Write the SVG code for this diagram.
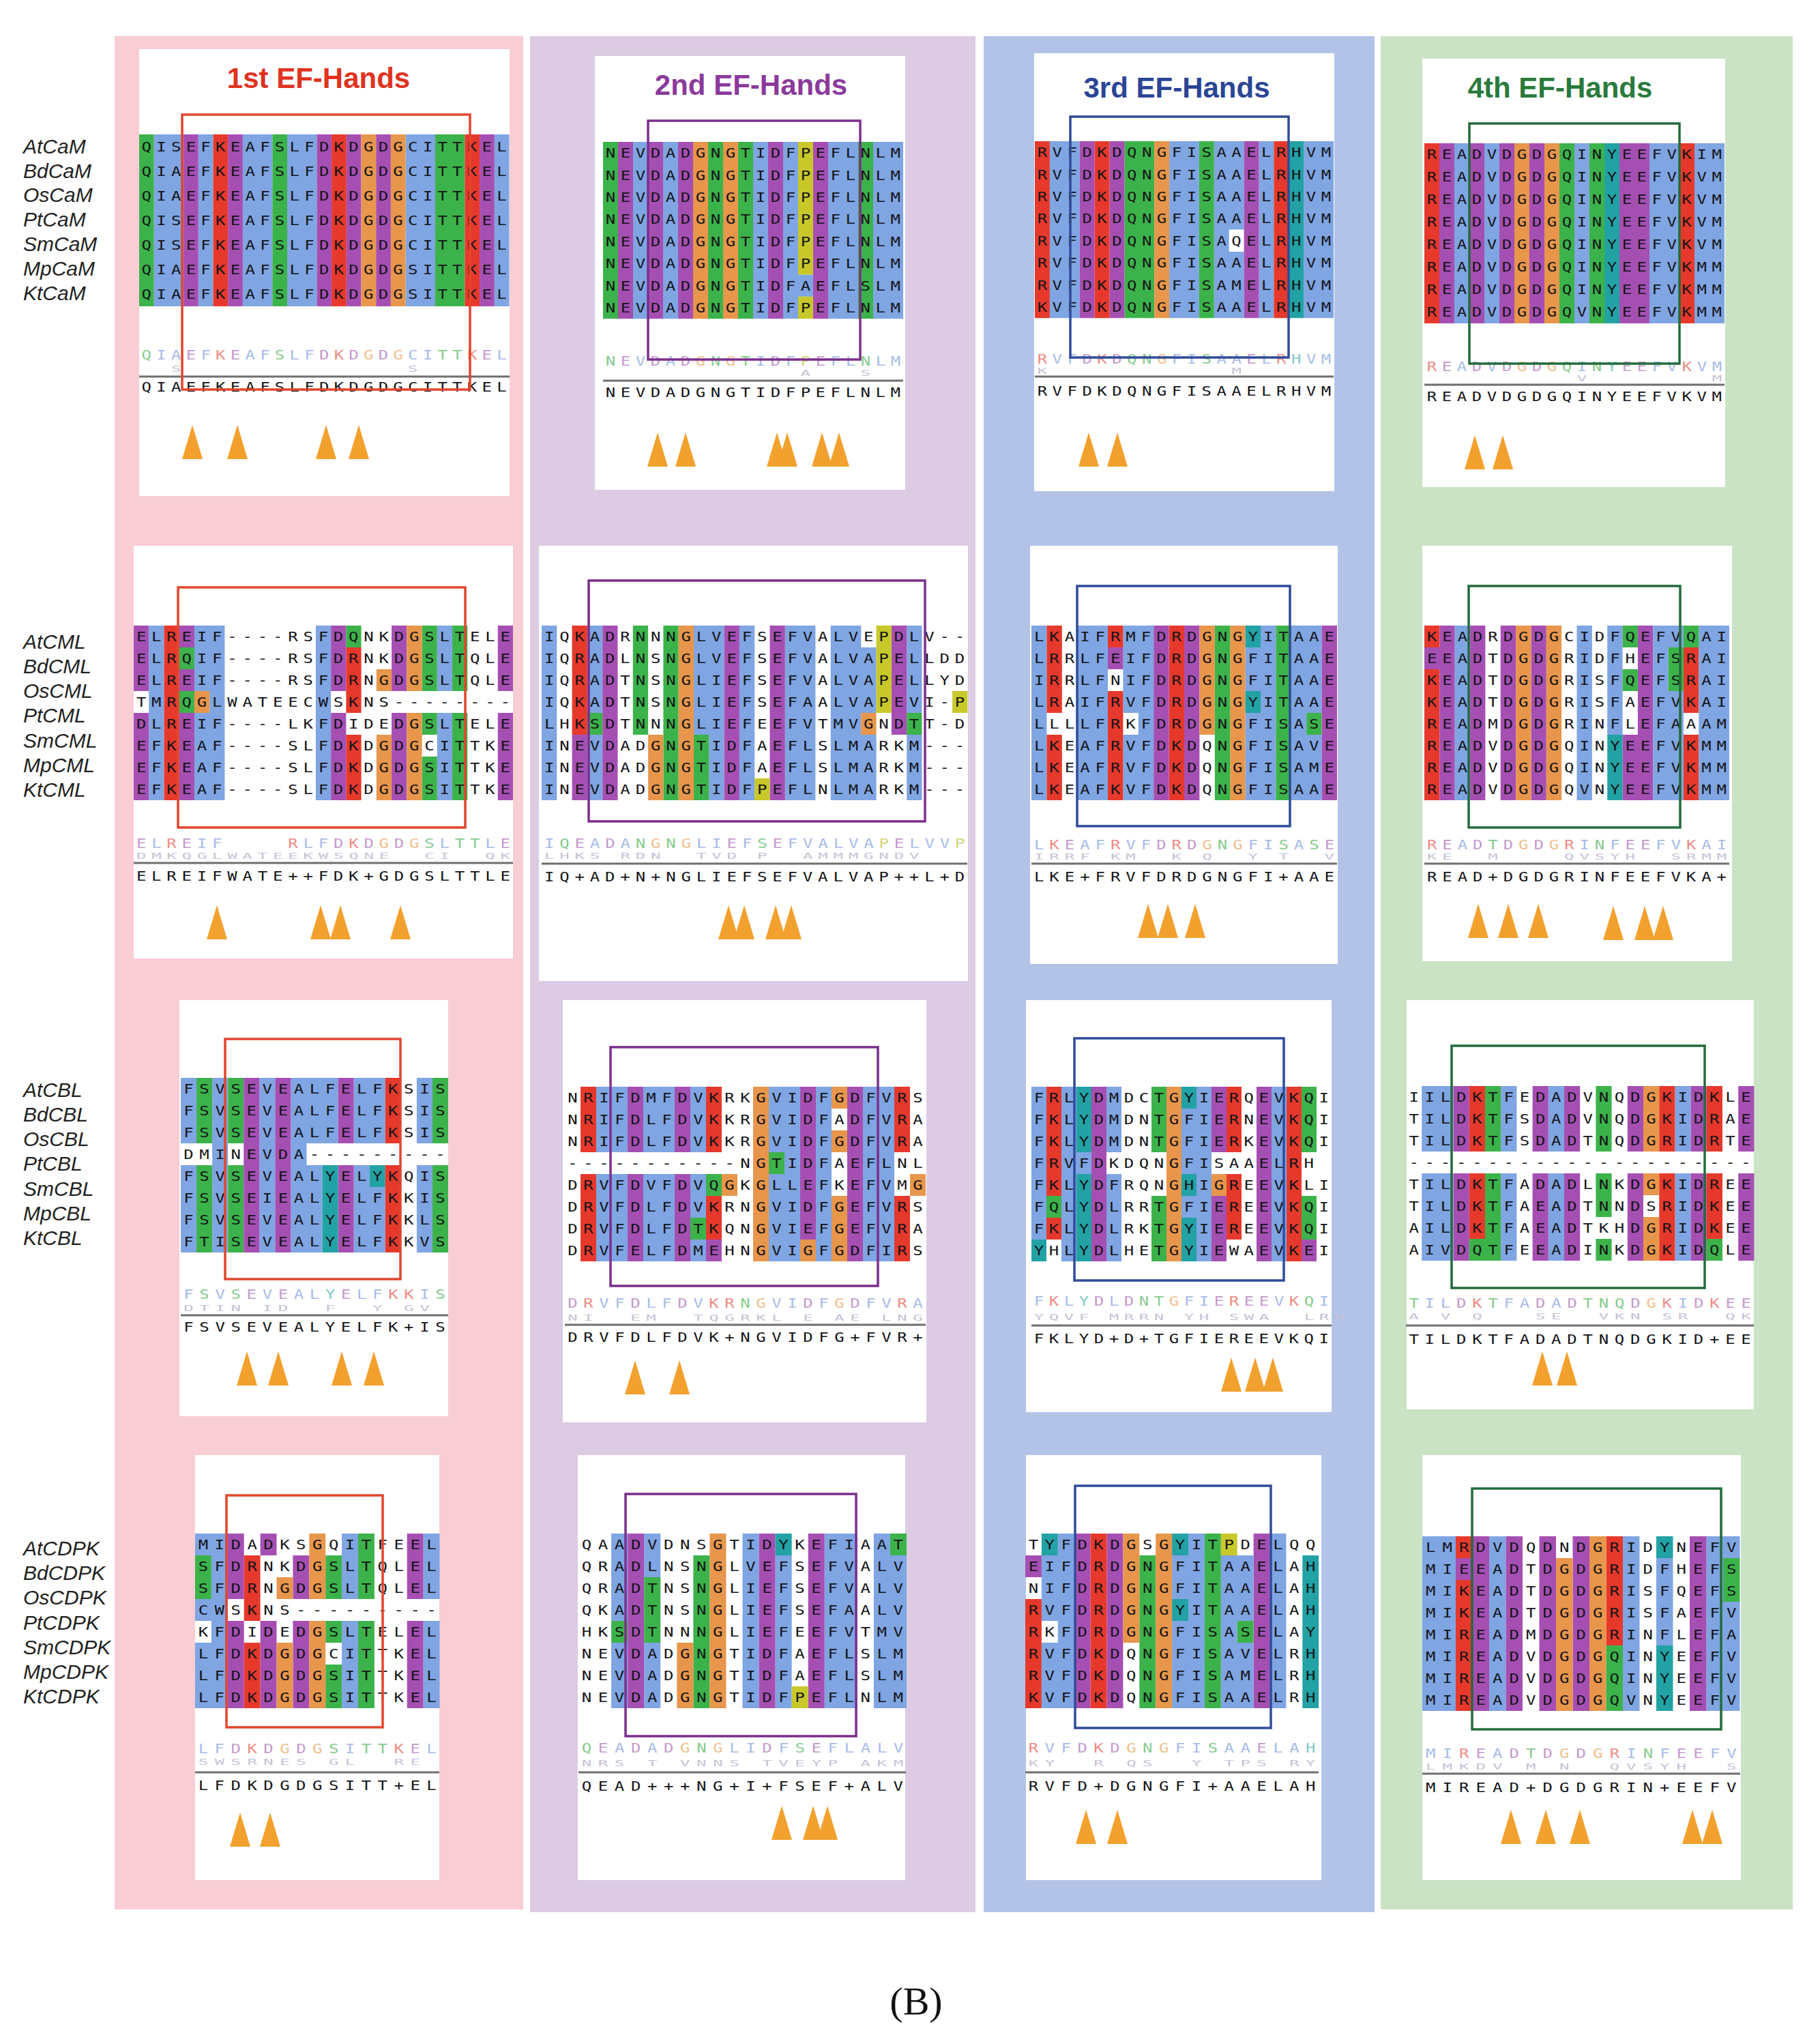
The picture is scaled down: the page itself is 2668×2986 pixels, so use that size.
<svg xmlns="http://www.w3.org/2000/svg" width="2668" height="2986" viewBox="0 0 2668 2986">
<style>
.b{fill:#7fa5e2}.r{fill:#e6392c}.m{fill:#a64fb3}.g{fill:#3cb34a}.o{fill:#e8964b}.y{fill:#c8c82a}.c{fill:#22a2a4}
.s,.l1,.l2{font-family:"DejaVu Sans Mono","Liberation Mono",monospace;font-size:20px}
.s{fill:#141418}
.l1{fill:#a7bce9}
.l2{fill:#c6c2d6}
.lr{fill:#ee8c84}.lm{fill:#c59acd}.lg{fill:#86cc8e}.lo{fill:#efbf8f}.lc{fill:#7fc8c8}.ly{fill:#d4d47a}
.sep{stroke:#6f6f6f;stroke-width:3;fill:none}
.lab{font-family:"Liberation Sans",Arial,sans-serif;font-style:italic;font-size:30px;fill:#222}
.ttl{font-family:"Liberation Sans",Arial,sans-serif;font-weight:bold;font-size:42px;text-anchor:middle}
.cap{font-family:"Liberation Serif","Times New Roman",serif;font-size:58px;fill:#111;text-anchor:middle}
.pn{fill:#fff}
.bx{fill:none;stroke-width:3.5}
</style>
<defs><path id="t" d="M0 0L15 50H-15Z" fill="#f2a12e"/></defs>
<rect width="2668" height="2986" fill="#fff"/>
<g id="columns">
<rect x="168" y="53" width="599" height="2746" fill="#f8cdd4"/>
<rect x="777" y="53" width="653" height="2750" fill="#dccbe3"/>
<rect x="1442" y="53" width="573" height="2750" fill="#b3c3e8"/>
<rect x="2024" y="53" width="604" height="2746" fill="#c9e3c4"/>
</g>
<g id="labels">
<text class="lab" x="34" y="225">AtCaM</text><text class="lab" x="34" y="261">BdCaM</text><text class="lab" x="34" y="296">OsCaM</text><text class="lab" x="34" y="332">PtCaM</text><text class="lab" x="34" y="368">SmCaM</text><text class="lab" x="34" y="404">MpCaM</text><text class="lab" x="34" y="440">KtCaM</text>
<text class="lab" x="34" y="951">AtCML</text><text class="lab" x="34" y="987">BdCML</text><text class="lab" x="34" y="1023">OsCML</text><text class="lab" x="34" y="1059">PtCML</text><text class="lab" x="34" y="1096">SmCML</text><text class="lab" x="34" y="1132">MpCML</text><text class="lab" x="34" y="1168">KtCML</text>
<text class="lab" x="34" y="1608">AtCBL</text><text class="lab" x="34" y="1644">BdCBL</text><text class="lab" x="34" y="1680">OsCBL</text><text class="lab" x="34" y="1716">PtCBL</text><text class="lab" x="34" y="1753">SmCBL</text><text class="lab" x="34" y="1789">MpCBL</text><text class="lab" x="34" y="1825">KtCBL</text>
<text class="lab" x="34" y="2280">AtCDPK</text><text class="lab" x="34" y="2316">BdCDPK</text><text class="lab" x="34" y="2352">OsCDPK</text><text class="lab" x="34" y="2389">PtCDPK</text><text class="lab" x="34" y="2425">SmCDPK</text><text class="lab" x="34" y="2461">MpCDPK</text><text class="lab" x="34" y="2497">KtCDPK</text>
</g>

<g id="p11">
<rect class="pn" x="204" y="72" width="543" height="655"/>
<text class="ttl" x="467" y="129" fill="#e0321f">1st EF-Hands</text>
<g transform="translate(204,197)">
<g transform="scale(21.7,36)">
<path class="b" d="M1 0h2v7h-2zM4 0h1v7h-1zM7 0h2v7h-2zM10 0h2v7h-2zM18 0h2v7h-2zM24 0h1v7h-1z"/>
<path class="g" d="M0 0h1v7h-1zM9 0h1v7h-1zM20 0h2v7h-2z"/>
<path class="m" d="M3 0h1v7h-1zM6 0h1v7h-1zM12 0h1v7h-1zM14 0h1v7h-1zM16 0h1v7h-1zM23 0h1v7h-1z"/>
<path class="r" d="M5 0h1v7h-1zM13 0h1v7h-1zM22 0h1v7h-1z"/>
<path class="o" d="M15 0h1v7h-1zM17 0h1v7h-1z"/>
</g>
<path class="sep" d="M0 355H543"/>
<g transform="scale(1.2,1)" style="letter-spacing:6.04px">
<text class="s" x="3.02" y="25">QISEFKEAFSLFDKDGDGCITTKEL</text>
<text class="s" x="3.02" y="61">QIAEFKEAFSLFDKDGDGCITTKEL</text>
<text class="s" x="3.02" y="97">QIAEFKEAFSLFDKDGDGCITTKEL</text>
<text class="s" x="3.02" y="133">QISEFKEAFSLFDKDGDGCITTKEL</text>
<text class="s" x="3.02" y="169">QISEFKEAFSLFDKDGDGCITTKEL</text>
<text class="s" x="3.02" y="205">QIAEFKEAFSLFDKDGDGSITTKEL</text>
<text class="s" x="3.02" y="241">QIAEFKEAFSLFDKDGDGSITTKEL</text>
<text class="l1" x="3.02" y="330"><tspan class="lg">Q</tspan>IA<tspan class="lm">E</tspan>F<tspan class="lr">K</tspan><tspan class="lm">E</tspan>AF<tspan class="lg">S</tspan>LF<tspan class="lm">D</tspan><tspan class="lr">K</tspan><tspan class="lm">D</tspan><tspan class="lo">G</tspan><tspan class="lm">D</tspan><tspan class="lo">G</tspan>CI<tspan class="lg">TT</tspan><tspan class="lr">K</tspan><tspan class="lm">E</tspan>L</text>
<text class="l2" x="3.02" transform="translate(0,348) scale(1,.6)" xml:space="preserve">  S               S      </text>
<text class="s" x="3.02" y="377">QIAEFKEAFSLFDKDGDGCITTKEL</text>
</g>
</g>
<rect class="bx" stroke="#e2452c" x="267" y="168" width="422" height="403"/>
<use href="#t" x="282" y="623"/><use href="#t" x="348" y="623"/><use href="#t" x="478" y="623"/><use href="#t" x="526" y="623"/>
</g>

<g id="p12">
<rect class="pn" x="872" y="82" width="455" height="636"/>
<text class="ttl" x="1101" y="139" fill="#8b3a9c">2nd EF-Hands</text>
<g transform="translate(884,208)">
<g transform="scale(22,32.4)">
<path class="b" d="M2 0h1v8h-1zM4 0h1v8h-1zM10 0h1v8h-1zM12 0h1v8h-1zM13 6h1v1h-1zM15 0h2v8h-2zM18 0h2v8h-2z"/>
<path class="g" d="M0 0h1v8h-1zM7 0h1v8h-1zM9 0h1v8h-1zM17 0h1v8h-1z"/>
<path class="m" d="M1 0h1v8h-1zM3 0h1v8h-1zM5 0h1v8h-1zM11 0h1v8h-1zM14 0h1v8h-1z"/>
<path class="o" d="M6 0h1v8h-1zM8 0h1v8h-1z"/>
<path class="y" d="M13 0h1v6h-1zM13 7h1v1h-1z"/>
</g>
<path class="sep" d="M0 350H440"/>
<g transform="scale(1.2,1)" style="letter-spacing:6.29px">
<text class="s" x="3.15" y="23.2">NEVDADGNGTIDFPEFLNLM</text>
<text class="s" x="3.15" y="55.6">NEVDADGNGTIDFPEFLNLM</text>
<text class="s" x="3.15" y="88">NEVDADGNGTIDFPEFLNLM</text>
<text class="s" x="3.15" y="120.4">NEVDADGNGTIDFPEFLNLM</text>
<text class="s" x="3.15" y="152.8">NEVDADGNGTIDFPEFLNLM</text>
<text class="s" x="3.15" y="185.2">NEVDADGNGTIDFPEFLNLM</text>
<text class="s" x="3.15" y="217.6">NEVDADGNGTIDFAEFLSLM</text>
<text class="s" x="3.15" y="250">NEVDADGNGTIDFPEFLNLM</text>
<text class="l1" x="3.15" y="328"><tspan class="lg">N</tspan><tspan class="lm">E</tspan>V<tspan class="lm">D</tspan>A<tspan class="lm">D</tspan><tspan class="lo">G</tspan><tspan class="lg">N</tspan><tspan class="lo">G</tspan><tspan class="lg">T</tspan>I<tspan class="lm">D</tspan>F<tspan class="ly">P</tspan><tspan class="lm">E</tspan>FL<tspan class="lg">N</tspan>LM</text>
<text class="l2" x="3.15" transform="translate(0,343) scale(1,.6)" xml:space="preserve">             A   S  </text>
<text class="s" x="3.15" y="374">NEVDADGNGTIDFPEFLNLM</text>
</g>
</g>
<rect class="bx" stroke="#7a2f8c" x="950" y="177" width="311" height="350"/>
<use href="#t" x="964" y="634"/><use href="#t" x="1005" y="634"/><use href="#t" x="1139" y="634"/><use href="#t" x="1154" y="634"/><use href="#t" x="1205" y="634"/><use href="#t" x="1230" y="634"/>
</g>

<g id="p13">
<rect class="pn" x="1516" y="78" width="440" height="642"/>
<text class="ttl" x="1725" y="143" fill="#2a4596">3rd EF-Hands</text>
<g transform="translate(1517,207)">
<g transform="scale(21.9,32.4)">
<path class="b" d="M1 0h2v8h-2zM9 0h2v8h-2zM12 0h1v8h-1zM13 0h1v4h-1zM13 5h1v3h-1zM15 0h1v8h-1zM18 0h2v8h-2z"/>
<path class="g" d="M6 0h2v8h-2zM11 0h1v8h-1z"/>
<path class="m" d="M3 0h1v8h-1zM5 0h1v8h-1zM14 0h1v8h-1z"/>
<path class="r" d="M0 0h1v8h-1zM4 0h1v8h-1zM16 0h1v8h-1z"/>
<path class="o" d="M8 0h1v8h-1z"/>
<path class="c" d="M17 0h1v8h-1z"/>
</g>
<path class="sep" d="M0 345H438"/>
<g transform="scale(1.2,1)" style="letter-spacing:6.21px">
<text class="s" x="3.11" y="23.2">RVFDKDQNGFISAAELRHVM</text>
<text class="s" x="3.11" y="55.6">RVFDKDQNGFISAAELRHVM</text>
<text class="s" x="3.11" y="88">RVFDKDQNGFISAAELRHVM</text>
<text class="s" x="3.11" y="120.4">RVFDKDQNGFISAAELRHVM</text>
<text class="s" x="3.11" y="152.8">RVFDKDQNGFISAQELRHVM</text>
<text class="s" x="3.11" y="185.2">RVFDKDQNGFISAAELRHVM</text>
<text class="s" x="3.11" y="217.6">RVFDKDQNGFISAMELRHVM</text>
<text class="s" x="3.11" y="250">KVFDKDQNGFISAAELRHVM</text>
<text class="l1" x="3.11" y="326"><tspan class="lr">R</tspan>VF<tspan class="lm">D</tspan><tspan class="lr">K</tspan><tspan class="lm">D</tspan><tspan class="lg">QN</tspan><tspan class="lo">G</tspan>FI<tspan class="lg">S</tspan>AA<tspan class="lm">E</tspan>L<tspan class="lr">R</tspan><tspan class="lc">H</tspan>VM</text>
<text class="l2" x="3.11" transform="translate(0,341) scale(1,.6)" xml:space="preserve">K            M      </text>
<text class="s" x="3.11" y="373">RVFDKDQNGFISAAELRHVM</text>
</g>
</g>
<rect class="bx" stroke="#2f4b9a" x="1569" y="171" width="320" height="353"/>
<use href="#t" x="1596" y="634"/><use href="#t" x="1638" y="634"/>
</g>

<g id="p14">
<rect class="pn" x="2085" y="86" width="444" height="628"/>
<text class="ttl" x="2287" y="143" fill="#2a7a3c">4th EF-Hands</text>
<g transform="translate(2088,210)">
<g transform="scale(22,33)">
<path class="b" d="M2 0h1v8h-1zM4 0h1v8h-1zM10 0h1v8h-1zM15 0h2v8h-2zM18 0h2v8h-2z"/>
<path class="m" d="M1 0h1v8h-1zM3 0h1v8h-1zM5 0h1v8h-1zM7 0h1v8h-1zM13 0h2v8h-2z"/>
<path class="o" d="M6 0h1v8h-1zM8 0h1v8h-1z"/>
<path class="g" d="M9 0h1v8h-1zM11 0h1v8h-1z"/>
<path class="c" d="M12 0h1v8h-1z"/>
<path class="r" d="M0 0h1v8h-1zM17 0h1v8h-1z"/>
</g>
<path class="sep" d="M0 354H440"/>
<g transform="scale(1.2,1)" style="letter-spacing:6.29px">
<text class="s" x="3.15" y="23.5">READVDGDGQINYEEFVKIM</text>
<text class="s" x="3.15" y="56.5">READVDGDGQINYEEFVKVM</text>
<text class="s" x="3.15" y="89.5">READVDGDGQINYEEFVKVM</text>
<text class="s" x="3.15" y="122.5">READVDGDGQINYEEFVKVM</text>
<text class="s" x="3.15" y="155.5">READVDGDGQINYEEFVKVM</text>
<text class="s" x="3.15" y="188.5">READVDGDGQINYEEFVKMM</text>
<text class="s" x="3.15" y="221.5">READVDGDGQINYEEFVKMM</text>
<text class="s" x="3.15" y="254.5">READVDGDGQVNYEEFVKMM</text>
<text class="l1" x="3.15" y="334"><tspan class="lr">R</tspan><tspan class="lm">E</tspan>A<tspan class="lm">D</tspan>V<tspan class="lm">D</tspan><tspan class="lo">G</tspan><tspan class="lm">D</tspan><tspan class="lo">G</tspan><tspan class="lg">Q</tspan>I<tspan class="lg">N</tspan><tspan class="lc">Y</tspan><tspan class="lm">EE</tspan>FV<tspan class="lr">K</tspan>VM</text>
<text class="l2" x="3.15" transform="translate(0,349) scale(1,.6)" xml:space="preserve">          V        M</text>
<text class="s" x="3.15" y="378">READVDGDGQINYEEFVKVM</text>
</g>
</g>
<rect class="bx" stroke="#236b3c" x="2154" y="181" width="308" height="352"/>
<use href="#t" x="2162" y="638"/><use href="#t" x="2203" y="638"/>
</g>

<g id="p21">
<rect class="pn" x="196" y="800" width="556" height="605"/>
<g transform="translate(196,917)">
<g transform="scale(22.24,32)">
<path class="m" d="M0 0h1v3h-1zM0 4h1v4h-1zM3 0h1v1h-1zM3 2h1v1h-1zM3 4h1v4h-1zM13 0h1v3h-1zM13 4h1v4h-1zM17 0h1v3h-1zM17 4h1v4h-1zM24 0h1v3h-1zM24 4h1v4h-1z"/>
<path class="b" d="M1 0h1v8h-1zM4 0h1v3h-1zM4 4h1v4h-1zM5 0h1v8h-1zM12 0h1v8h-1zM20 0h1v3h-1zM20 4h1v4h-1z"/>
<path class="r" d="M2 0h1v8h-1zM14 1h1v3h-1zM14 5h1v3h-1z"/>
<path class="g" d="M3 1h1v1h-1zM3 3h1v1h-1zM14 0h1v1h-1zM19 0h1v3h-1zM19 4h1v1h-1zM19 6h1v2h-1zM21 0h1v3h-1zM21 4h1v4h-1z"/>
<path class="o" d="M4 3h1v1h-1zM16 2h1v1h-1zM16 5h1v3h-1zM18 0h1v3h-1zM18 4h1v4h-1z"/>
</g>
<path class="sep" d="M0 348H556"/>
<g transform="scale(1.2,1)" style="letter-spacing:6.49px">
<text class="s" x="3.25" y="23">ELREIF----RSFDQNKDGSLTELE</text>
<text class="s" x="3.25" y="55">ELRQIF----RSFDRNKDGSLTQLE</text>
<text class="s" x="3.25" y="87">ELREIF----RSFDRNGDGSLTQLE</text>
<text class="s" x="3.25" y="119">TMRQGLWATEECWSKNS--------</text>
<text class="s" x="3.25" y="151">DLREIF----LKFDIDEDGSLTELE</text>
<text class="s" x="3.25" y="183">EFKEAF----SLFDKDGDGCITTKE</text>
<text class="s" x="3.25" y="215">EFKEAF----SLFDKDGDGSITTKE</text>
<text class="s" x="3.25" y="247">EFKEAF----SLFDKDGDGSITTKE</text>
<text class="l1" x="3.25" y="326" xml:space="preserve"><tspan class="lm">E</tspan>L<tspan class="lr">R</tspan><tspan class="lm">E</tspan>IF    <tspan class="lr">R</tspan>LF<tspan class="lm">D</tspan><tspan class="lr">K</tspan><tspan class="lm">D</tspan><tspan class="lo">G</tspan><tspan class="lm">D</tspan><tspan class="lo">G</tspan><tspan class="lg">S</tspan>L<tspan class="lg">TT</tspan>L<tspan class="lm">E</tspan></text>
<text class="l2" x="3.25" transform="translate(0,342) scale(1,.6)" xml:space="preserve">DMKQGLWATEEKWSQNE  CI  QK</text>
<text class="s" x="3.25" y="374">ELREIFWATE++FDK+GDGSLTTLE</text>
</g>
</g>
<rect class="bx" stroke="#e2452c" x="261" y="861" width="421" height="352"/>
<use href="#t" x="318" y="1327"/><use href="#t" x="470" y="1327"/><use href="#t" x="499" y="1327"/><use href="#t" x="587" y="1327"/>
</g>

<g id="p22">
<rect class="pn" x="790" y="800" width="629" height="638"/>
<g transform="translate(794,917)">
<g transform="scale(22.3,32)">
<path class="b" d="M0 0h1v8h-1zM3 0h1v4h-1zM3 5h1v3h-1zM10 0h1v5h-1zM11 0h1v8h-1zM13 0h1v8h-1zM16 0h2v8h-2zM19 0h2v8h-2zM21 1h1v3h-1zM21 5h1v3h-1zM24 0h1v4h-1zM24 5h1v3h-1z"/>
<path class="r" d="M2 0h1v5h-1z"/>
<path class="m" d="M2 5h1v3h-1zM4 0h1v8h-1zM12 0h1v8h-1zM15 0h1v8h-1zM23 0h1v5h-1z"/>
<path class="g" d="M3 4h1v1h-1zM6 0h1v5h-1zM8 0h1v8h-1zM10 5h1v3h-1zM24 4h1v1h-1z"/>
<path class="o" d="M7 5h1v3h-1zM9 0h1v8h-1zM21 4h1v1h-1z"/>
<path class="y" d="M14 7h1v1h-1zM22 0h1v4h-1zM27 3h1v1h-1z"/>
</g>
<path class="sep" d="M0 349H624"/>
<g transform="scale(1.2,1)" style="letter-spacing:6.54px">
<text class="s" x="3.27" y="23">IQKADRNNNGLVEFSEFVALVEPDLV--</text>
<text class="s" x="3.27" y="55">IQRADLNSNGLVEFSEFVALVAPELLDD</text>
<text class="s" x="3.27" y="87">IQRADTNSNGLIEFSEFVALVAPELLYD</text>
<text class="s" x="3.27" y="119">IQKADTNSNGLIEFSEFAALVAPEVI-P</text>
<text class="s" x="3.27" y="151">LHKSDTNNNGLIEFEEFVTMVGNDTT-D</text>
<text class="s" x="3.27" y="183">INEVDADGNGTIDFAEFLSLMARKM---</text>
<text class="s" x="3.27" y="215">INEVDADGNGTIDFAEFLSLMARKM---</text>
<text class="s" x="3.27" y="247">INEVDADGNGTIDFPEFLNLMARKM---</text>
<text class="l1" x="3.27" y="326">I<tspan class="lg">Q</tspan><tspan class="lm">E</tspan>A<tspan class="lm">D</tspan>A<tspan class="lg">N</tspan><tspan class="lo">G</tspan><tspan class="lg">N</tspan><tspan class="lo">G</tspan>LI<tspan class="lm">E</tspan>F<tspan class="lg">S</tspan><tspan class="lm">E</tspan>FVALVA<tspan class="ly">P</tspan><tspan class="lm">E</tspan>LVV<tspan class="ly">P</tspan></text>
<text class="l2" x="3.27" transform="translate(0,342) scale(1,.6)" xml:space="preserve">LHKS RDN  TVD P  AMMMGNDV   </text>
<text class="s" x="3.27" y="375">IQ+AD+N+NGLIEFSEFVALVAP++L+D</text>
</g>
</g>
<rect class="bx" stroke="#7a2f8c" x="863" y="851" width="493" height="353"/>
<use href="#t" x="1068" y="1327"/><use href="#t" x="1091" y="1327"/><use href="#t" x="1137" y="1327"/><use href="#t" x="1160" y="1327"/>
</g>

<g id="p23">
<rect class="pn" x="1510" y="800" width="451" height="613"/>
<g transform="translate(1512,917)">
<g transform="scale(22.4,32)">
<path class="b" d="M0 0h1v8h-1zM3 0h2v8h-2zM6 0h1v4h-1zM6 5h1v3h-1zM7 0h1v8h-1zM14 1h1v2h-1zM14 4h1v4h-1zM15 0h1v8h-1zM17 0h1v8h-1zM18 0h1v4h-1zM18 5h1v3h-1z"/>
<path class="r" d="M1 0h1v4h-1zM1 5h1v3h-1zM5 0h1v1h-1zM5 3h1v5h-1zM9 0h1v8h-1z"/>
<path class="m" d="M5 1h1v1h-1zM8 0h1v8h-1zM10 0h1v8h-1zM19 0h1v8h-1z"/>
<path class="o" d="M11 0h1v5h-1zM13 0h1v8h-1z"/>
<path class="g" d="M12 0h1v8h-1zM16 0h1v8h-1zM18 4h1v1h-1z"/>
<path class="c" d="M14 0h1v1h-1zM14 3h1v1h-1z"/>
</g>
<path class="sep" d="M0 349H448"/>
<g transform="scale(1.2,1)" style="letter-spacing:6.63px">
<text class="s" x="3.31" y="23">LKAIFRMFDRDGNGYITAAE</text>
<text class="s" x="3.31" y="55">LRRLFEIFDRDGNGFITAAE</text>
<text class="s" x="3.31" y="87">IRRLFNIFDRDGNGFITAAE</text>
<text class="s" x="3.31" y="119">LRAIFRVFDRDGNGYITAAE</text>
<text class="s" x="3.31" y="151">LLLLFRKFDRDGNGFISASE</text>
<text class="s" x="3.31" y="183">LKEAFRVFDKDQNGFISAVE</text>
<text class="s" x="3.31" y="215">LKEAFRVFDKDQNGFISAME</text>
<text class="s" x="3.31" y="247">LKEAFKVFDKDQNGFISAAE</text>
<text class="l1" x="3.31" y="328">L<tspan class="lr">K</tspan><tspan class="lm">E</tspan>AF<tspan class="lr">R</tspan>VF<tspan class="lm">D</tspan><tspan class="lr">R</tspan><tspan class="lm">D</tspan><tspan class="lo">G</tspan><tspan class="lg">N</tspan><tspan class="lo">G</tspan>FI<tspan class="lg">S</tspan>A<tspan class="lg">S</tspan><tspan class="lm">E</tspan></text>
<text class="l2" x="3.31" transform="translate(0,343) scale(1,.6)" xml:space="preserve">IRRF KM  K Q  Y T  V</text>
<text class="s" x="3.31" y="375">LKE+FRVFDRDGNGFI+AAE</text>
</g>
</g>
<rect class="bx" stroke="#2f4b9a" x="1579" y="859" width="312" height="352"/>
<use href="#t" x="1683" y="1325"/><use href="#t" x="1712" y="1325"/><use href="#t" x="1752" y="1325"/>
</g>

<g id="p24">
<rect class="pn" x="2085" y="800" width="454" height="609"/>
<g transform="translate(2088,917)">
<g transform="scale(22.35,32)">
<path class="r" d="M0 0h1v1h-1zM0 2h1v6h-1zM17 1h1v3h-1zM17 5h1v3h-1z"/>
<path class="m" d="M0 1h1v1h-1zM1 0h1v8h-1zM3 0h1v8h-1zM5 0h1v8h-1zM7 0h1v8h-1zM13 5h1v3h-1zM14 0h1v8h-1z"/>
<path class="b" d="M2 0h1v8h-1zM10 0h1v8h-1zM12 0h1v5h-1zM15 0h1v8h-1zM16 0h1v1h-1zM16 3h1v5h-1zM18 0h2v8h-2z"/>
<path class="o" d="M6 0h1v8h-1zM8 0h1v8h-1z"/>
<path class="g" d="M13 0h1v1h-1zM13 2h1v1h-1zM16 1h1v2h-1zM17 0h1v1h-1z"/>
<path class="c" d="M12 5h1v3h-1z"/>
</g>
<path class="sep" d="M0 349H447"/>
<g transform="scale(1.2,1)" style="letter-spacing:6.59px">
<text class="s" x="3.29" y="23">KEADRDGDGCIDFQEFVQAI</text>
<text class="s" x="3.29" y="55">EEADTDGDGRIDFHEFSRAI</text>
<text class="s" x="3.29" y="87">KEADTDGDGRISFQEFSRAI</text>
<text class="s" x="3.29" y="119">KEADTDGDGRISFAEFVKAI</text>
<text class="s" x="3.29" y="151">READMDGDGRINFLEFAAAM</text>
<text class="s" x="3.29" y="183">READVDGDGQINYEEFVKMM</text>
<text class="s" x="3.29" y="215">READVDGDGQINYEEFVKMM</text>
<text class="s" x="3.29" y="247">READVDGDGQVNYEEFVKMM</text>
<text class="l1" x="3.29" y="328"><tspan class="lr">R</tspan><tspan class="lm">E</tspan>A<tspan class="lm">D</tspan><tspan class="lg">T</tspan><tspan class="lm">D</tspan><tspan class="lo">G</tspan><tspan class="lm">D</tspan><tspan class="lo">G</tspan><tspan class="lr">R</tspan>I<tspan class="lg">N</tspan>F<tspan class="lm">EE</tspan>FV<tspan class="lr">K</tspan>AI</text>
<text class="l2" x="3.29" transform="translate(0,343) scale(1,.6)" xml:space="preserve">KE  M    QVSYH  SRMM</text>
<text class="s" x="3.29" y="375">READ+DGDGRINFEEFVKA+</text>
</g>
</g>
<rect class="bx" stroke="#236b3c" x="2153" y="859" width="310" height="354"/>
<use href="#t" x="2167" y="1325"/><use href="#t" x="2211" y="1325"/><use href="#t" x="2255" y="1325"/><use href="#t" x="2365" y="1328"/><use href="#t" x="2411" y="1328"/><use href="#t" x="2438" y="1328"/>
</g>

<g id="p31">
<rect class="pn" x="263" y="1466" width="394" height="610"/>
<g transform="translate(265,1580)">
<g transform="scale(23.06,32)">
<path class="b" d="M0 0h1v3h-1zM0 4h1v4h-1zM2 0h1v8h-1zM5 0h1v8h-1zM7 0h1v8h-1zM8 0h2v3h-2zM8 4h1v4h-1zM11 0h2v3h-2zM11 4h1v4h-1zM12 5h1v3h-1zM15 0h1v3h-1zM15 4h1v4h-1z"/>
<path class="g" d="M1 0h1v3h-1zM1 4h1v4h-1zM3 0h1v3h-1zM3 4h1v4h-1zM16 0h1v3h-1zM16 4h1v4h-1z"/>
<path class="m" d="M4 0h1v8h-1zM6 0h1v8h-1zM10 0h1v3h-1zM10 4h1v4h-1z"/>
<path class="c" d="M9 4h1v4h-1zM12 4h1v1h-1z"/>
<path class="r" d="M13 0h1v3h-1zM13 4h1v4h-1z"/>
</g>
<path class="sep" d="M0 348H392"/>
<g transform="scale(1.2,1)" style="letter-spacing:7.18px">
<text class="s" x="3.59" y="23">FSVSEVEALFELFKSIS</text>
<text class="s" x="3.59" y="55">FSVSEVEALFELFKSIS</text>
<text class="s" x="3.59" y="87">FSVSEVEALFELFKSIS</text>
<text class="s" x="3.59" y="119">DMINEVDA---------</text>
<text class="s" x="3.59" y="151">FSVSEVEALYELYKQIS</text>
<text class="s" x="3.59" y="183">FSVSEIEALYELFKKIS</text>
<text class="s" x="3.59" y="215">FSVSEVEALYELFKKLS</text>
<text class="s" x="3.59" y="247">FTISEVEALYELFKKVS</text>
<text class="l1" x="3.59" y="324">F<tspan class="lg">S</tspan>V<tspan class="lg">S</tspan><tspan class="lm">E</tspan>V<tspan class="lm">E</tspan>AL<tspan class="lc">Y</tspan><tspan class="lm">E</tspan>LF<tspan class="lr">KK</tspan>I<tspan class="lg">S</tspan></text>
<text class="l2" x="3.59" transform="translate(0,342) scale(1,.6)" xml:space="preserve">DTIN ID  F  Y GV </text>
<text class="s" x="3.59" y="372">FSVSEVEALYELFK+IS</text>
</g>
</g>
<rect class="bx" stroke="#e2452c" x="330" y="1523" width="257" height="352"/>
<use href="#t" x="362" y="1981"/><use href="#t" x="408" y="1981"/><use href="#t" x="501" y="1981"/><use href="#t" x="548" y="1981"/>
</g>

<g id="p32">
<rect class="pn" x="825" y="1466" width="533" height="619"/>
<g transform="translate(828,1593)">
<g transform="scale(23,32)">
<path class="r" d="M1 0h1v3h-1zM1 4h1v4h-1zM9 0h1v3h-1zM9 5h1v2h-1zM21 0h1v3h-1zM21 5h1v3h-1z"/>
<path class="b" d="M2 0h2v3h-2zM2 4h2v4h-2zM5 0h2v3h-2zM5 4h2v4h-2zM8 0h1v3h-1zM8 4h1v2h-1zM8 7h1v1h-1zM13 0h1v3h-1zM13 4h1v4h-1zM14 0h1v8h-1zM16 0h1v8h-1zM19 0h2v8h-2z"/>
<path class="m" d="M4 0h1v3h-1zM4 4h1v4h-1zM7 0h1v3h-1zM7 4h1v4h-1zM9 7h1v1h-1zM15 0h1v7h-1zM18 0h1v8h-1z"/>
<path class="g" d="M8 6h1v1h-1zM9 4h1v1h-1zM13 3h1v1h-1z"/>
<path class="o" d="M10 4h1v1h-1zM12 0h1v8h-1zM15 7h1v1h-1zM17 0h1v1h-1zM17 2h1v1h-1zM17 5h1v3h-1zM22 4h1v1h-1z"/>
</g>
<path class="sep" d="M0 349H529"/>
<g transform="scale(1.2,1)" style="letter-spacing:7.13px">
<text class="s" x="3.56" y="23">NRIFDMFDVKRKGVIDFGDFVRS</text>
<text class="s" x="3.56" y="55">NRIFDLFDVKKRGVIDFADFVRA</text>
<text class="s" x="3.56" y="87">NRIFDLFDVKKRGVIDFGDFVRA</text>
<text class="s" x="3.56" y="119">-----------NGTIDFAEFLNL</text>
<text class="s" x="3.56" y="151">DRVFDVFDVQGKGLLEFKEFVMG</text>
<text class="s" x="3.56" y="183">DRVFDLFDVKRNGVIDFGEFVRS</text>
<text class="s" x="3.56" y="215">DRVFDLFDTKQNGVIEFGEFVRA</text>
<text class="s" x="3.56" y="247">DRVFELFDMEHNGVIGFGDFIRS</text>
<text class="l1" x="3.56" y="324"><tspan class="lm">D</tspan><tspan class="lr">R</tspan>VF<tspan class="lm">D</tspan>LF<tspan class="lm">D</tspan>V<tspan class="lr">KR</tspan><tspan class="lg">N</tspan><tspan class="lo">G</tspan>VI<tspan class="lm">D</tspan>F<tspan class="lo">G</tspan><tspan class="lm">D</tspan>FV<tspan class="lr">R</tspan>A</text>
<text class="l2" x="3.56" transform="translate(0,343) scale(1,.6)" xml:space="preserve">NI  EM  TQGRKL E AE LNG</text>
<text class="s" x="3.56" y="374">DRVFDLFDVK+NGVIDFG+FVR+</text>
</g>
</g>
<rect class="bx" stroke="#7a2f8c" x="895" y="1535" width="392" height="350"/>
<use href="#t" x="931" y="1994"/><use href="#t" x="996" y="1994"/>
</g>

<g id="p33">
<rect class="pn" x="1504" y="1466" width="448" height="604"/>
<g transform="translate(1512,1593)">
<g transform="scale(22,32)">
<path class="b" d="M0 0h1v7h-1zM2 0h1v8h-1zM3 3h1v1h-1zM5 0h1v3h-1zM5 4h1v4h-1zM10 1h1v3h-1zM10 5h1v1h-1zM11 0h1v8h-1zM16 0h1v8h-1z"/>
<path class="c" d="M0 7h1v1h-1zM3 0h1v3h-1zM3 4h1v4h-1zM10 0h1v1h-1zM10 4h1v1h-1zM10 6h1v2h-1z"/>
<path class="r" d="M1 0h1v5h-1zM1 6h1v1h-1zM13 0h1v3h-1zM13 4h1v3h-1zM17 0h1v8h-1z"/>
<path class="g" d="M1 5h1v1h-1zM8 0h1v3h-1zM8 5h1v3h-1zM18 0h1v3h-1zM18 5h1v2h-1z"/>
<path class="m" d="M4 0h1v8h-1zM12 0h1v3h-1zM12 5h1v3h-1zM15 0h1v8h-1zM18 7h1v1h-1z"/>
<path class="o" d="M9 0h1v8h-1zM12 4h1v1h-1z"/>
</g>
<path class="sep" d="M0 350H440"/>
<g transform="scale(1.2,1)" style="letter-spacing:6.29px">
<text class="s" x="3.15" y="23">FRLYDMDCTGYIERQEVKQI</text>
<text class="s" x="3.15" y="55">FKLYDMDNTGFIERNEVKQI</text>
<text class="s" x="3.15" y="87">FKLYDMDNTGFIERKEVKQI</text>
<text class="s" x="3.15" y="119">FRVFDKDQNGFISAAELRH</text>
<text class="s" x="3.15" y="151">FKLYDFRQNGHIGREEVKLI</text>
<text class="s" x="3.15" y="183">FQLYDLRRTGFIEREEVKQI</text>
<text class="s" x="3.15" y="215">FKLYDLRKTGYIEREEVKQI</text>
<text class="s" x="3.15" y="247">YHLYDLHETGYIEWAEVKEI</text>
<text class="l1" x="3.15" y="321">F<tspan class="lr">K</tspan>L<tspan class="lc">Y</tspan><tspan class="lm">D</tspan>L<tspan class="lm">D</tspan><tspan class="lg">NT</tspan><tspan class="lo">G</tspan>FI<tspan class="lm">E</tspan><tspan class="lr">R</tspan><tspan class="lm">EE</tspan>V<tspan class="lr">K</tspan><tspan class="lg">Q</tspan>I</text>
<text class="l2" x="3.15" transform="translate(0,342) scale(1,.6)" xml:space="preserve">YQVF MRRN YH SWA  LRH</text>
<text class="s" x="3.15" y="376">FKLYD+D+TGFIEREEVKQI</text>
</g>
</g>
<rect class="bx" stroke="#2f4b9a" x="1575" y="1522" width="307" height="355"/>
<use href="#t" x="1805" y="1990"/><use href="#t" x="1840" y="1990"/><use href="#t" x="1866" y="1990"/>
</g>

<g id="p34">
<rect class="pn" x="2062" y="1466" width="509" height="600"/>
<g transform="translate(2061,1592)">
<g transform="scale(23.2,32)">
<path class="b" d="M1 0h2v3h-2zM1 4h2v4h-2zM6 0h1v3h-1zM6 4h1v4h-1zM9 0h1v3h-1zM9 4h1v4h-1zM17 0h1v3h-1zM17 4h1v4h-1z"/>
<path class="m" d="M3 0h1v3h-1zM3 4h1v4h-1zM8 0h1v3h-1zM8 4h1v4h-1zM10 0h1v3h-1zM10 4h1v4h-1zM14 0h1v3h-1zM14 4h1v4h-1zM18 0h1v3h-1zM18 4h1v4h-1zM21 0h1v3h-1zM21 4h1v4h-1z"/>
<path class="r" d="M4 0h1v3h-1zM4 4h1v3h-1zM16 0h1v3h-1zM16 4h1v4h-1zM19 0h1v3h-1zM19 4h1v3h-1z"/>
<path class="g" d="M4 7h1v1h-1zM5 0h1v3h-1zM5 4h1v4h-1zM12 0h1v3h-1zM12 4h1v2h-1zM12 7h1v1h-1zM19 7h1v1h-1z"/>
<path class="o" d="M15 0h1v3h-1zM15 4h1v1h-1zM15 6h1v2h-1z"/>
</g>
<path class="sep" d="M0 351H510"/>
<g transform="scale(1.2,1)" style="letter-spacing:7.29px">
<text class="s" x="3.65" y="23">IILDKTFEDADVNQDGKIDKLE</text>
<text class="s" x="3.65" y="55">TILDKTFSDADVNQDGKIDRAE</text>
<text class="s" x="3.65" y="87">TILDKTFSDADTNQDGRIDRTE</text>
<text class="s" x="3.65" y="119">----------------------</text>
<text class="s" x="3.65" y="151">TILDKTFADADLNKDGKIDREE</text>
<text class="s" x="3.65" y="183">TILDKTFAEADTNNDSRIDKEE</text>
<text class="s" x="3.65" y="215">AILDKTFAEADTKHDGRIDKEE</text>
<text class="s" x="3.65" y="247">AIVDQTFEEADINKDGKIDQLE</text>
<text class="l1" x="3.65" y="325"><tspan class="lg">T</tspan>IL<tspan class="lm">D</tspan><tspan class="lr">K</tspan><tspan class="lg">T</tspan>FA<tspan class="lm">D</tspan>A<tspan class="lm">D</tspan><tspan class="lg">TNQ</tspan><tspan class="lm">D</tspan><tspan class="lo">G</tspan><tspan class="lr">K</tspan>I<tspan class="lm">D</tspan><tspan class="lr">K</tspan><tspan class="lm">EE</tspan></text>
<text class="l2" x="3.65" transform="translate(0,342) scale(1,.6)" xml:space="preserve">A V Q   SE  VKN SR  QK</text>
<text class="s" x="3.65" y="378">TILDKTFADADTNQDGKID+EE</text>
</g>
</g>
<rect class="bx" stroke="#236b3c" x="2128" y="1533" width="371" height="355"/>
<use href="#t" x="2261" y="1981"/><use href="#t" x="2297" y="1981"/>
</g>

<g id="p41">
<rect class="pn" x="286" y="2133" width="358" height="623"/>
<g transform="translate(286,2248)">
<g transform="scale(23.9,32)">
<path class="b" d="M0 0h1v1h-1zM0 3h1v1h-1zM0 5h1v3h-1zM1 0h1v8h-1zM9 0h1v3h-1zM9 4h1v4h-1zM14 0h1v3h-1zM14 4h1v4h-1z"/>
<path class="g" d="M0 1h1v2h-1zM8 1h1v2h-1zM8 4h1v1h-1zM8 6h1v2h-1zM10 0h1v3h-1zM10 4h1v4h-1z"/>
<path class="m" d="M2 0h1v3h-1zM2 4h1v4h-1zM4 0h1v1h-1zM4 4h1v4h-1zM6 1h1v2h-1zM6 4h1v4h-1zM13 0h1v3h-1zM13 4h1v4h-1z"/>
<path class="r" d="M3 1h1v3h-1zM3 5h1v3h-1z"/>
<path class="o" d="M5 2h1v1h-1zM5 5h1v3h-1zM7 0h1v3h-1zM7 4h1v4h-1z"/>
</g>
<path class="sep" d="M0 350H358"/>
<g transform="scale(1.2,1)" style="letter-spacing:7.88px">
<text class="s" x="3.94" y="23">MIDADKSGQITFEEL</text>
<text class="s" x="3.94" y="55">SFDRNKDGSLTQLEL</text>
<text class="s" x="3.94" y="87">SFDRNGDGSLTQLEL</text>
<text class="s" x="3.94" y="119">CWSKNS---------</text>
<text class="s" x="3.94" y="151">KFDIDEDGSLTELEL</text>
<text class="s" x="3.94" y="183">LFDKDGDGCITTKEL</text>
<text class="s" x="3.94" y="215">LFDKDGDGSITTKEL</text>
<text class="s" x="3.94" y="247">LFDKDGDGSITTKEL</text>
<text class="l1" x="3.94" y="322">LF<tspan class="lm">D</tspan><tspan class="lr">K</tspan><tspan class="lm">D</tspan><tspan class="lo">G</tspan><tspan class="lm">D</tspan><tspan class="lo">G</tspan><tspan class="lg">S</tspan>I<tspan class="lg">TT</tspan><tspan class="lr">K</tspan><tspan class="lm">E</tspan>L</text>
<text class="l2" x="3.94" transform="translate(0,339) scale(1,.6)" xml:space="preserve">SWSRNES GL  RE </text>
<text class="s" x="3.94" y="376">LFDKDGDGSITT+EL</text>
</g>
</g>
<rect class="bx" stroke="#e2452c" x="332" y="2192" width="229" height="340"/>
<use href="#t" x="352" y="2657"/><use href="#t" x="396" y="2657"/>
</g>

<g id="p42">
<rect class="pn" x="847" y="2133" width="480" height="623"/>
<g transform="translate(848,2248)">
<g transform="scale(24.05,32)">
<path class="b" d="M2 0h1v4h-1zM2 5h1v3h-1zM4 0h1v2h-1zM4 5h1v3h-1zM10 0h1v8h-1zM12 1h1v7h-1zM15 0h2v8h-2zM18 0h1v8h-1zM19 1h1v7h-1z"/>
<path class="m" d="M3 0h1v8h-1zM11 0h1v8h-1zM14 0h1v8h-1z"/>
<path class="g" d="M2 4h1v1h-1zM4 2h1v3h-1zM7 1h1v7h-1zM19 0h1v1h-1z"/>
<path class="o" d="M6 5h1v3h-1zM8 0h1v8h-1z"/>
<path class="c" d="M12 0h1v1h-1z"/>
<path class="y" d="M13 7h1v1h-1z"/>
</g>
<path class="sep" d="M0 350H480"/>
<g transform="scale(1.2,1)" style="letter-spacing:8px">
<text class="s" x="4" y="23">QAADVDNSGTIDYKEFIAAT</text>
<text class="s" x="4" y="55">QRADLNSNGLVEFSEFVALV</text>
<text class="s" x="4" y="87">QRADTNSNGLIEFSEFVALV</text>
<text class="s" x="4" y="119">QKADTNSNGLIEFSEFAALV</text>
<text class="s" x="4" y="151">HKSDTNNNGLIEFEEFVTMV</text>
<text class="s" x="4" y="183">NEVDADGNGTIDFAEFLSLM</text>
<text class="s" x="4" y="215">NEVDADGNGTIDFAEFLSLM</text>
<text class="s" x="4" y="247">NEVDADGNGTIDFPEFLNLM</text>
<text class="l1" x="4" y="321"><tspan class="lg">Q</tspan><tspan class="lm">E</tspan>A<tspan class="lm">D</tspan>A<tspan class="lm">D</tspan><tspan class="lo">G</tspan><tspan class="lg">N</tspan><tspan class="lo">G</tspan>LI<tspan class="lm">D</tspan>F<tspan class="lg">S</tspan><tspan class="lm">E</tspan>FLALV</text>
<text class="l2" x="4" transform="translate(0,341) scale(1,.6)" xml:space="preserve">NRS T VNNS TVEYP AKM</text>
<text class="s" x="4" y="377">QEAD+++NG+I+FSEF+ALV</text>
</g>
</g>
<rect class="bx" stroke="#7a2f8c" x="917" y="2190" width="338" height="355"/>
<use href="#t" x="1146" y="2647"/><use href="#t" x="1192" y="2647"/><use href="#t" x="1213" y="2647"/>
</g>

<g id="p43">
<rect class="pn" x="1504" y="2133" width="433" height="623"/>
<g transform="translate(1503,2248)">
<g transform="scale(23.9,32)">
<path class="m" d="M0 1h1v1h-1zM3 0h1v8h-1zM5 0h1v8h-1zM14 0h1v8h-1z"/>
<path class="r" d="M0 3h1v5h-1zM4 0h1v8h-1z"/>
<path class="c" d="M1 0h1v1h-1zM9 0h1v1h-1zM9 3h1v1h-1zM17 1h1v7h-1z"/>
<path class="b" d="M1 1h1v3h-1zM1 5h1v3h-1zM2 0h1v8h-1zM9 1h1v2h-1zM9 4h1v4h-1zM10 0h1v8h-1zM12 1h2v3h-2zM12 4h1v4h-1zM13 5h1v3h-1zM15 0h1v8h-1z"/>
<path class="g" d="M7 1h1v7h-1zM11 0h1v8h-1zM13 4h1v1h-1z"/>
<path class="o" d="M6 0h1v5h-1zM8 0h1v8h-1z"/>
<path class="y" d="M12 0h1v1h-1z"/>
</g>
<path class="sep" d="M0 350H430"/>
<g transform="scale(1.2,1)" style="letter-spacing:7.88px">
<text class="s" x="3.94" y="23">TYFDKDGSGYITPDELQQ</text>
<text class="s" x="3.94" y="55">EIFDRDGNGFITAAELAH</text>
<text class="s" x="3.94" y="87">NIFDRDGNGFITAAELAH</text>
<text class="s" x="3.94" y="119">RVFDRDGNGYITAAELAH</text>
<text class="s" x="3.94" y="151">RKFDRDGNGFISASELAY</text>
<text class="s" x="3.94" y="183">RVFDKDQNGFISAVELRH</text>
<text class="s" x="3.94" y="215">RVFDKDQNGFISAMELRH</text>
<text class="s" x="3.94" y="247">KVFDKDQNGFISAAELRH</text>
<text class="l1" x="3.94" y="321"><tspan class="lr">R</tspan>VF<tspan class="lm">D</tspan><tspan class="lr">K</tspan><tspan class="lm">D</tspan><tspan class="lo">G</tspan><tspan class="lg">N</tspan><tspan class="lo">G</tspan>FI<tspan class="lg">S</tspan>AA<tspan class="lm">E</tspan>LA<tspan class="lc">H</tspan></text>
<text class="l2" x="3.94" transform="translate(0,341) scale(1,.6)" xml:space="preserve">KY  R QS  Y TPS RY</text>
<text class="s" x="3.94" y="377">RVFD+DGNGFI+AAELAH</text>
</g>
</g>
<rect class="bx" stroke="#2f4b9a" x="1576" y="2178" width="287" height="355"/>
<use href="#t" x="1592" y="2653"/><use href="#t" x="1638" y="2653"/>
</g>

<g id="p44">
<rect class="pn" x="2085" y="2133" width="467" height="623"/>
<g transform="translate(2085,2252)">
<g transform="scale(24.5,32)">
<path class="b" d="M0 0h2v8h-2zM4 0h1v8h-1zM12 0h1v8h-1zM14 1h1v4h-1zM17 0h2v1h-2zM17 1h1v2h-1zM17 3h2v5h-2z"/>
<path class="m" d="M2 1h1v1h-1zM3 0h1v8h-1zM5 0h1v8h-1zM7 0h1v8h-1zM9 0h1v8h-1zM16 0h1v8h-1z"/>
<path class="r" d="M2 0h1v1h-1zM2 2h1v6h-1zM11 0h1v5h-1z"/>
<path class="o" d="M8 1h1v7h-1zM10 0h1v8h-1z"/>
<path class="g" d="M11 5h1v3h-1zM18 1h1v2h-1z"/>
<path class="c" d="M14 0h1v1h-1zM14 5h1v3h-1z"/>
</g>
<path class="sep" d="M0 348H466"/>
<g transform="scale(1.2,1)" style="letter-spacing:8.38px">
<text class="s" x="4.19" y="23">LMRDVDQDNDGRIDYNEFV</text>
<text class="s" x="4.19" y="55">MIEEADTDGDGRIDFHEFS</text>
<text class="s" x="4.19" y="87">MIKEADTDGDGRISFQEFS</text>
<text class="s" x="4.19" y="119">MIKEADTDGDGRISFAEFV</text>
<text class="s" x="4.19" y="151">MIREADMDGDGRINFLEFA</text>
<text class="s" x="4.19" y="183">MIREADVDGDGQINYEEFV</text>
<text class="s" x="4.19" y="215">MIREADVDGDGQINYEEFV</text>
<text class="s" x="4.19" y="247">MIREADVDGDGQVNYEEFV</text>
<text class="l1" x="4.19" y="325">MI<tspan class="lr">R</tspan><tspan class="lm">E</tspan>A<tspan class="lm">D</tspan><tspan class="lg">T</tspan><tspan class="lm">D</tspan><tspan class="lo">G</tspan><tspan class="lm">D</tspan><tspan class="lo">G</tspan><tspan class="lr">R</tspan>I<tspan class="lg">N</tspan>F<tspan class="lm">EE</tspan>FV</text>
<text class="l2" x="4.19" transform="translate(0,342) scale(1,.6)" xml:space="preserve">LMKDV M N  QVSYH  S</text>
<text class="s" x="4.19" y="375">MIREAD+DGDGRIN+EEFV</text>
</g>
</g>
<rect class="bx" stroke="#236b3c" x="2158" y="2182" width="365" height="353"/>
<use href="#t" x="2215" y="2653"/><use href="#t" x="2266" y="2653"/><use href="#t" x="2316" y="2653"/><use href="#t" x="2481" y="2653"/><use href="#t" x="2510" y="2653"/>
</g>

<text class="cap" x="1343" y="2953">(B)</text>
</svg>
